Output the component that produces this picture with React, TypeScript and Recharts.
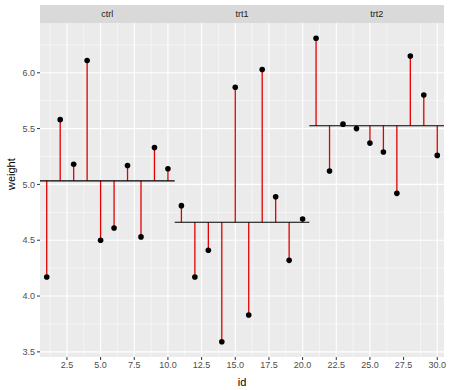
import {
  ComposedChart,
  Scatter,
  ErrorBar,
  XAxis,
  YAxis,
  CartesianGrid,
  ReferenceLine,
} from 'recharts';

// PlantGrowth weights, ids 1..30
const groups = ['ctrl', 'trt1', 'trt2'];
const ctrlWeight = [4.17, 5.58, 5.18, 6.11, 4.5, 4.61, 5.17, 4.53, 5.33, 5.14];
const trt1Weight = [4.81, 4.17, 4.41, 3.59, 5.87, 3.83, 6.03, 4.89, 4.32, 4.69];
const trt2Weight = [6.31, 5.12, 5.54, 5.5, 5.37, 5.29, 4.92, 6.15, 5.8, 5.26];

const xTicks = [2.5, 5, 7.5, 10, 12.5, 15, 17.5, 20, 22.5, 25, 27.5, 30];
const yTicks = [3.5, 4, 4.5, 5, 5.5, 6];
const xMinor = [1.25, 3.75, 6.25, 8.75, 11.25, 13.75, 16.25, 18.75, 21.25, 23.75, 26.25, 28.75];
const yMinor = [3.75, 4.25, 4.75, 5.25, 5.75, 6.25];

const weights = [ctrlWeight, trt1Weight, trt2Weight];
const means = weights.map((w) => w.reduce((a, b) => a + b, 0) / w.length);

// error bar reaches from each point to its group mean
const points = weights.flatMap((w, g) =>
  w.map((weight, i) => {
    const d = weight - means[g];
    return { id: g * 10 + i + 1, weight, toMean: d > 0 ? [d, 0] : [0, -d] };
  })
);

const W = 450;
const H = 390;
const M = { top: 23, right: 6, bottom: 0, left: 0 };
const font = 'Liberation Sans, Arial, sans-serif';

const Dot = (props: any) => <circle cx={props.cx} cy={props.cy} r={2.8} fill="#000" />;

const tickStyle = { fontSize: 9, fill: '#4D4D4D', fontFamily: font };

export default function App() {
  const plotW = W - 40 - M.right;
  return (
    <div style={{ position: 'absolute', left: 0, top: 0, width: W, height: H, background: '#fff' }}>
      <div
        style={{
          position: 'absolute',
          left: 40,
          top: 5,
          width: plotW,
          height: 18,
          background: '#D9D9D9',
        }}
      >
        {groups.map((g, i) => (
          <div
            key={g}
            style={{
              position: 'absolute',
              left: (plotW / 3) * i,
              width: plotW / 3,
              top: 0,
              lineHeight: '18px',
              textAlign: 'center',
              fontSize: 9,
              color: '#1A1A1A',
              fontFamily: font,
            }}
          >
            {g}
          </div>
        ))}
      </div>
      <ComposedChart width={W} height={H} data={points} margin={M} style={{ position: 'absolute', left: 0, top: 0 }}>
        <CartesianGrid
          fill="#EBEBEB"
          stroke="#FFFFFF"
          strokeWidth={0.5}
          verticalValues={xMinor}
          horizontalValues={yMinor}
        />
        <CartesianGrid
          stroke="#FFFFFF"
          strokeWidth={1.1}
          verticalValues={xTicks}
          horizontalValues={yTicks}
        />
        <XAxis
          dataKey="id"
          type="number"
          domain={[0.5, 30.5]}
          ticks={xTicks}
          allowDataOverflow
          tickFormatter={(v: number) => v.toFixed(1)}
          tick={tickStyle}
          tickLine={{ stroke: '#333333' }}
          tickSize={3}
          axisLine={false}
          height={33}
          label={{ value: 'id', position: 'insideBottom', offset: 4, fontSize: 11, fill: '#000', fontFamily: font }}
        />
        <YAxis
          dataKey="weight"
          type="number"
          domain={[3.454, 6.446]}
          ticks={yTicks}
          allowDataOverflow
          tickFormatter={(v: number) => v.toFixed(1)}
          tick={tickStyle}
          tickLine={{ stroke: '#333333' }}
          tickSize={3}
          axisLine={false}
          width={40}
          label={{ value: 'weight', angle: -90, position: 'insideLeft', offset: 11, fontSize: 11, fill: '#000', fontFamily: font }}
        />
        <Scatter dataKey="weight" fill="#000" shape={Dot} isAnimationActive={false}>
          <ErrorBar dataKey="toMean" direction="y" width={0} stroke="#E00000" strokeWidth={1.3} isAnimationActive={false} />
        </Scatter>
        {means.map((m, g) => (
          <ReferenceLine
            key={'m' + g}
            segment={[
              { x: g * 10 + 0.5, y: m },
              { x: g * 10 + 10.5, y: m },
            ]}
            stroke="#000"
            strokeWidth={1.1}
          />
        ))}
      </ComposedChart>
    </div>
  );
}
